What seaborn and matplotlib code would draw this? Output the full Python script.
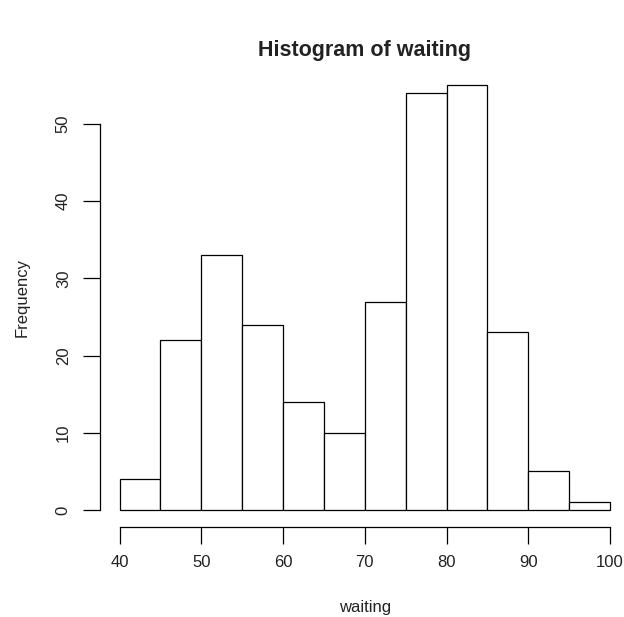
import matplotlib
matplotlib.use("Agg")
import matplotlib.pyplot as plt
import seaborn as sns
import numpy as np

bin_edges = [40, 45, 50, 55, 60, 65, 70, 75, 80, 85, 90, 95, 100]
counts = [4, 22, 33, 24, 14, 10, 27, 54, 55, 23, 5, 1]
x_ticks = [40, 50, 60, 70, 80, 90, 100]
y_ticks = [0, 10, 20, 30, 40, 50]

sns.set_style("white")
plt.rcParams['font.family'] = ['Liberation Sans', 'DejaVu Sans']

fig = plt.figure(figsize=(6.24, 6.17), dpi=100)
ax = fig.add_axes([100/624, 90/617, 529.6/624, 458.6/617])

mids = [(a + b) / 2 for a, b in zip(bin_edges[:-1], bin_edges[1:])]
sns.histplot(x=mids, weights=counts, bins=bin_edges, ax=ax,
             color="white", edgecolor="black", linewidth=0.9, alpha=1, stat="count")

ax.set_xlim(37.6, 102.4)
ax.set_ylim(-2.2, 57.2)
ax.set_xticks(x_ticks)
ax.set_yticks(y_ticks)
ax.set_xticklabels([str(t) for t in x_ticks])
ax.set_yticklabels([str(t) for t in y_ticks], rotation=90, va="center")
for s in ["top", "right"]:
    ax.spines[s].set_visible(False)
for s in ["left", "bottom"]:
    ax.spines[s].set_visible(True)
    ax.spines[s].set_color("black")
    ax.spines[s].set_linewidth(0.9)
ax.spines["left"].set_bounds(0, 50)
ax.spines["bottom"].set_bounds(40, 100)
ax.tick_params(axis="both", direction="out", length=12, width=0.9, color="black",
               labelcolor="#222222", labelsize=12, pad=8, left=True, bottom=True)
ax.tick_params(axis="y", pad=9)
ax.set_xlabel("waiting", fontsize=12, labelpad=22, color="#222222")
ax.set_ylabel("Frequency", fontsize=12, labelpad=19, color="#222222")
ax.set_title("Histogram of waiting", fontsize=15.5, fontweight="bold", pad=9,
             x=0.4985, color="#222222")
ax.grid(False)

fig.savefig("out.png", dpi=100)
